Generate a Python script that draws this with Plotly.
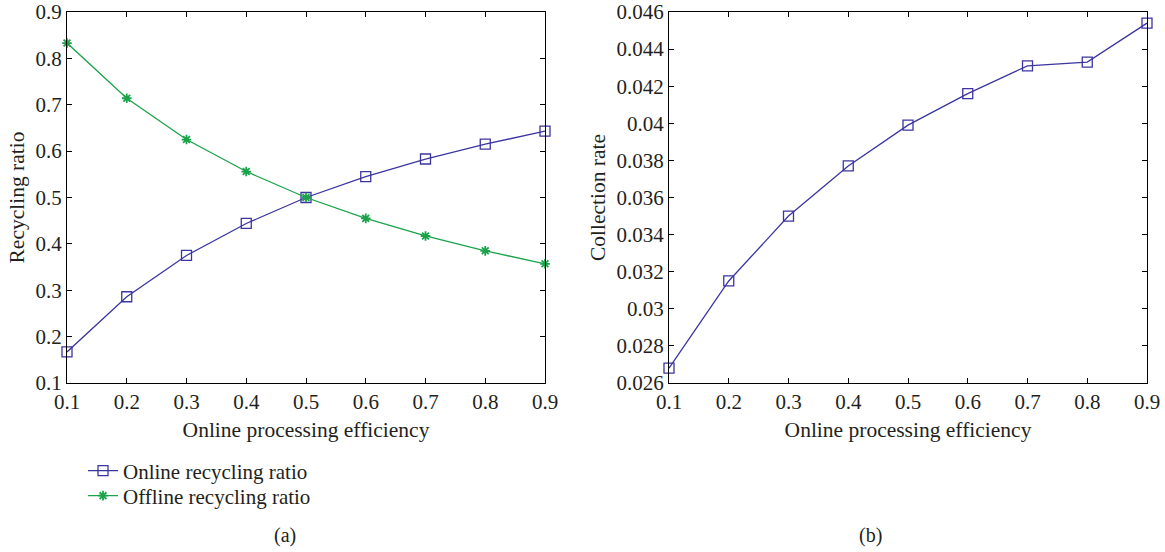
import plotly.graph_objects as go

efficiency = [0.1, 0.2, 0.3, 0.4, 0.5, 0.6, 0.7, 0.8, 0.9]
online_ratio = [0.167, 0.286, 0.375, 0.444, 0.500, 0.545, 0.583, 0.615, 0.643]
offline_ratio = [0.833, 0.714, 0.625, 0.556, 0.500, 0.455, 0.417, 0.385, 0.357]
collection_rate = [0.0268, 0.0315, 0.0350, 0.0377, 0.0399, 0.0416, 0.0431, 0.0433, 0.0454]

x_ticks = [0.1, 0.2, 0.3, 0.4, 0.5, 0.6, 0.7, 0.8, 0.9]
x_ticktext = ["0.1", "0.2", "0.3", "0.4", "0.5", "0.6", "0.7", "0.8", "0.9"]
ya_ticks = [0.1, 0.2, 0.3, 0.4, 0.5, 0.6, 0.7, 0.8, 0.9]
ya_ticktext = ["0.1", "0.2", "0.3", "0.4", "0.5", "0.6", "0.7", "0.8", "0.9"]
yb_ticks = [0.026, 0.028, 0.030, 0.032, 0.034, 0.036, 0.038, 0.040, 0.042, 0.044, 0.046]
yb_ticktext = ["0.026", "0.028", "0.03", "0.032", "0.034", "0.036", "0.038", "0.04", "0.042", "0.044", "0.046"]

BLUE = "#3b35a0"
GREEN = "#1aa34a"
FONT = "Liberation Serif"
TXT = "#231f20"
W, H = 1165, 552

fig = go.Figure()
fig.add_trace(go.Scatter(
    x=efficiency, y=online_ratio, name="Online recycling ratio", legend="legend",
    mode="lines+markers", line=dict(color=BLUE, width=1.3),
    marker=dict(symbol="square-open", size=10, color=BLUE, line=dict(width=1.3)),
    xaxis="x", yaxis="y", cliponaxis=False))
fig.add_trace(go.Scatter(
    x=efficiency, y=offline_ratio, name="Offline recycling ratio", legend="legend2",
    mode="lines+markers", line=dict(color=GREEN, width=1.3),
    marker=dict(symbol="asterisk-open", size=8, color=GREEN, line=dict(width=1.8, color=GREEN)),
    xaxis="x", yaxis="y", cliponaxis=False))
fig.add_trace(go.Scatter(
    x=efficiency, y=collection_rate, name="Collection rate", showlegend=False,
    mode="lines+markers", line=dict(color=BLUE, width=1.3),
    marker=dict(symbol="square-open", size=10, color=BLUE, line=dict(width=1.3)),
    xaxis="x2", yaxis="y2", cliponaxis=False))

def px_x(p):
    return p / W

def px_y(p):
    return 1 - p / H

axis_common = dict(
    showgrid=False, zeroline=False, showline=True, linecolor="black", linewidth=1.2,
    mirror="allticks", ticks="inside", ticklen=5, tickcolor="black", tickwidth=1,
    tickfont=dict(family=FONT, size=21, color=TXT), automargin=False,
    ticklabeloverflow="allow",
)
title_font = dict(family=FONT, size=21.5, color=TXT)
legend_common = dict(xanchor="left", yanchor="middle",
                     font=dict(family=FONT, size=21, color=TXT),
                     bgcolor="rgba(0,0,0,0)", itemwidth=30)

fig.update_layout(
    width=W, height=H,
    margin=dict(l=0, r=0, t=0, b=0),
    paper_bgcolor="white", plot_bgcolor="white",
    font=dict(family=FONT, color=TXT),
    xaxis=dict(domain=[px_x(67), px_x(545)], anchor="y", range=[0.1, 0.9],
               tickvals=x_ticks, ticktext=x_ticktext,
               title=dict(text="Online processing efficiency", font=title_font, standoff=8),
               **axis_common),
    yaxis=dict(domain=[px_y(383), px_y(12)], anchor="x", range=[0.1, 0.9],
               tickvals=ya_ticks, ticktext=ya_ticktext,
               title=dict(text="Recycling ratio", font=title_font, standoff=4),
               **axis_common),
    xaxis2=dict(domain=[px_x(669), px_x(1147)], anchor="y2", range=[0.1, 0.9],
                tickvals=x_ticks, ticktext=x_ticktext,
                title=dict(text="Online processing efficiency", font=title_font, standoff=8),
                **axis_common),
    yaxis2=dict(domain=[px_y(383), px_y(12)], anchor="x2", range=[0.026, 0.046],
                tickvals=yb_ticks, ticktext=yb_ticktext,
                title=dict(text="Collection rate", font=title_font, standoff=4),
                **axis_common),
    legend=dict(x=px_x(83), y=px_y(471), **legend_common),
    legend2=dict(x=px_x(83), y=px_y(496), **legend_common),
    showlegend=True,
    annotations=[
        dict(text="(a)", x=px_x(285), y=px_y(535), xref="paper", yref="paper",
             xanchor="center", yanchor="middle",
             showarrow=False, font=dict(family=FONT, size=20, color=TXT)),
        dict(text="(b)", x=px_x(870), y=px_y(535), xref="paper", yref="paper",
             xanchor="center", yanchor="middle",
             showarrow=False, font=dict(family=FONT, size=20, color=TXT)),
    ],
)

fig.write_html("out.html", config={"displayModeBar": False},
               post_script="document.body.style.margin='0px';")
